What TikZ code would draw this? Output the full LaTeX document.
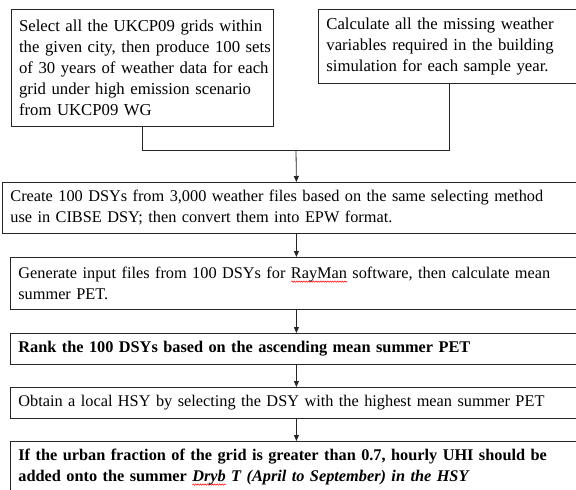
\documentclass[tikz,border=0pt]{standalone}
\usepackage{fontspec}
\setmainfont{Liberation Serif}
\usetikzlibrary{arrows.meta,decorations.pathmorphing}
\newsavebox\sqbox
\newlength\sqw
\newcommand\squig[1]{\sbox\sqbox{#1}\setlength\sqw{\wd\sqbox}%
  \rlap{\tikz[baseline=0pt]\draw[red,line width=0.5bp,decorate,
    decoration={snake,amplitude=0.7bp,segment length=2.4bp}]
    (0pt,-3bp) -- (\sqw,-3bp);}\usebox\sqbox}
\begin{document}
\begin{tikzpicture}[x=1bp,y=-1bp,
  box/.style={draw=black!85, line width=0.8bp, anchor=north west, align=left,
    inner xsep=8bp, inner ysep=0pt,
    font=\fontsize{16.3bp}{20.8bp}\selectfont},
  topbox/.style={box, font=\fontsize{16.7bp}{20.8bp}\selectfont},
  boldbox/.style={box, font=\fontsize{16.3bp}{20.8bp}\selectfont\bfseries},
  link/.style={draw=black!85, line width=0.8bp},
  arr/.style={link, -{Triangle[length=6bp,width=5bp]}}]
\useasboundingbox (0,0) rectangle (576,490);
\clip (0,0) rectangle (576,490);
\fill[white] (0,0) rectangle (576,490);

\node[topbox, text width=246.3bp, minimum height=117.3bp] (b1) at (10.7,8.7)
  {\mbox{Select all the UKCP09 grids within}\\\mbox{the given city, then produce 100 sets}\\\mbox{of 30 years of weather data for each}\\\mbox{grid under high emission scenario}\\\mbox{from UKCP09 WG}};
\node[topbox, text width=246bp, minimum height=74bp] (b2) at (318,9)
  {\mbox{Calculate all the missing weather}\\\mbox{variables required in the building}\\\mbox{simulation for each sample year.}};
\node[box, text width=572bp, minimum height=51bp] (b3) at (2,182)
  {\mbox{Create 100 DSYs from 3,000 weather files based on the same selecting method}\\\mbox{use in CIBSE DSY; then convert them into EPW format.}};
\node[box, text width=556bp, minimum height=52bp] (b4) at (10,257)
  {\mbox{Generate input files from 100 DSYs for \squig{RayMan} software, then calculate mean}\\\mbox{summer PET.}};
\node[boldbox, text width=556bp, minimum height=31bp] (b5) at (10,333)
  {\mbox{Rank the 100 DSYs based on the ascending mean summer PET}};
\node[box, text width=556bp, minimum height=31bp] (b6) at (10,387)
  {\mbox{Obtain a local HSY by selecting the DSY with the highest mean summer PET}};
\node[boldbox, text width=556bp, minimum height=52bp] (b7) at (10,441)
  {\mbox{If the urban fraction of the grid is greater than 0.7, hourly UHI should be}\\\mbox{added onto the summer \textit{\squig{Dryb} T (April to September) in the HSY}}};

\coordinate (j) at (296,150);
\draw[link] (b1.south) |- (j);
\draw[link] (b2.south) |- (j);
\draw[arr] (j) -- (b3.north);
\draw[arr] (b3.south) -- (b4.north);
\draw[arr] (b4.south) -- (b5.north);
\draw[arr] (b5.south) -- (b6.north);
\draw[arr] (b6.south) -- (b7.north);
\end{tikzpicture}
\end{document}
